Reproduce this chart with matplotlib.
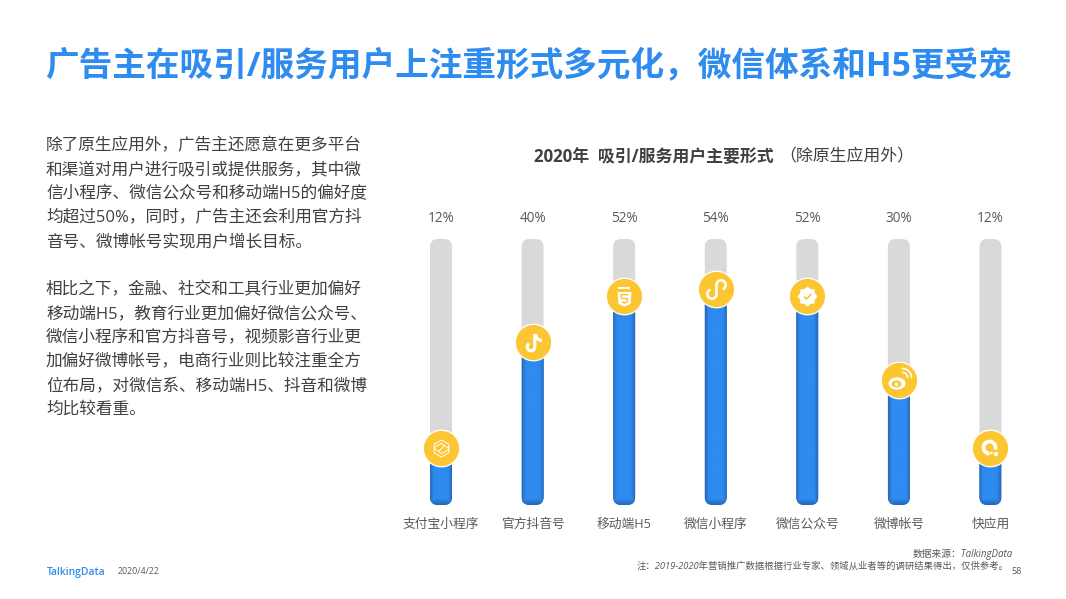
import matplotlib
matplotlib.use('Agg')
import matplotlib.pyplot as plt
import numpy as np
from matplotlib.patches import FancyBboxPatch
from matplotlib.path import Path

plt.rcParams['font.family'] = ['Open Sans', 'Noto Sans CJK SC', 'DejaVu Sans']

# Chart data
categories = ['支付宝小程序', '官方抖音号', '移动端H5', '微信小程序', '微信公众号', '微博帐号', '快应用']
values = [12, 40, 52, 54, 52, 30, 12]

title = '广告主在吸引/服务用户上注重形式多元化，微信体系和H5更受宠'
chart_title_bold = '2020年  吸引/服务用户主要形式'
chart_title_light = '（除原生应用外）'
para_lines = [
    '除了原生应用外，广告主还愿意在更多平台',
    '和渠道对用户进行吸引或提供服务，其中微',
    '信小程序、微信公众号和移动端H5的偏好度',
    '均超过50%，同时，广告主还会利用官方抖',
    '音号、微博帐号实现用户增长目标。',
    '',
    '相比之下，金融、社交和工具行业更加偏好',
    '移动端H5，教育行业更加偏好微信公众号、',
    '微信小程序和官方抖音号，视频影音行业更',
    '加偏好微博帐号，电商行业则比较注重全方',
    '位布局，对微信系、移动端H5、抖音和微博',
    '均比较看重。',
]
source_text = '数据来源：TalkingData'
note_text = '注：2019-2020年营销推广数据根据行业专家、领域从业者等的调研结果得出，仅供参考。'

W, H = 1066, 599
BLUE = '#2E8BEF'
GOLD = '#FBC632'
GREY = '#D9D9D9'
TEXT = '#404040'
PX = 0.72  # points per pixel at dpi 100

fig = plt.figure(figsize=(W / 100, H / 100), dpi=100, facecolor='white')


def put(x, y, s, **kw):
    # place text using pixel coordinates from the top left
    return fig.text(x / W, 1 - y / H, s, **kw)


def arc(cx, cy, r, a0, a1, n=40):
    t = np.radians(np.linspace(a0, a1, n))
    return np.column_stack([cx + r * np.cos(t), cy + r * np.sin(t)])


def icon(ax, x, y, pts, filled=True, color='white', lw=1.0, zorder=5):
    # pts are in pixels around the circle centre, y up
    path = pts if isinstance(pts, Path) else Path(np.asarray(pts))
    ms = 2 * np.abs(path.vertices).max() * PX
    if filled:
        ax.plot([x], [y], marker=path, ms=ms, mfc=color, mec='none', mew=0, ls='none', zorder=zorder)
    else:
        ax.plot([x], [y], marker=path, ms=ms, mfc='none', mec=color, mew=lw, ls='none', zorder=zorder)


def polylines(parts):
    verts, codes = [], []
    for p in parts:
        p = np.asarray(p)
        verts.append(p)
        codes += [Path.MOVETO] + [Path.LINETO] * (len(p) - 1)
    return Path(np.vstack(verts), codes)


def draw_alipay(ax, x, y):
    hexa = arc(0, 0, 8.5, 90, 450, 7)
    inner = [hexa, [(-7.3, 1), (0, 5), (7.3, 0)], [(-7.3, 0), (0, -5), (7.3, -1)], [(-3, -3), (3, 3)]]
    icon(ax, x, y, polylines(inner), filled=False, lw=0.7)


def draw_tiktok(ax, x, y):
    note = arc(-2.5, -4.5, 3.8, 120, 360, 30)
    stem = np.array([(1.3, -4.5), (1.3, 8.5)])
    flag = arc(8.5, 8.5, 6.5, 180, 270, 12)
    icon(ax, x, y, polylines([note, stem, flag]), filled=False, lw=3.2 * PX)


def draw_html5(ax, x, y):
    shield = [(-7, 4.5), (7, 4.5), (6, -7.5), (0, -10), (-6, -7.5), (-7, 4.5)]
    icon(ax, x, y, Path(np.array(shield)))
    five = [(3.6, 1.8), (-3.4, 1.8), (-3, -2), (3, -2), (2.6, -5.5), (0, -6.5), (-2.6, -5.5)]
    icon(ax, x, y, polylines([five]), filled=False, color=GOLD, lw=1.5 * PX, zorder=6)
    band = [(-6, 8.5), (6, 8.5)]
    icon(ax, x, y, polylines([band]), filled=False, lw=2 * PX)


def draw_miniprogram(ax, x, y):
    right = arc(4.6, 4.6, 4.6, 180, -70, 40)
    left = arc(-4.6, -4.6, 4.6, 0, -250, 40)
    stroke = np.vstack([right[::-1], left])
    icon(ax, x, y, polylines([stroke]), filled=False, lw=2.6 * PX)


def draw_badge(ax, x, y):
    ang = np.radians(np.arange(0, 360, 22.5))
    rad = np.where(np.arange(16) % 2 == 0, 10, 8)
    star = np.column_stack([rad * np.cos(ang), rad * np.sin(ang)])
    star = np.vstack([star, star[:1]])
    icon(ax, x, y, Path(star))
    check = [(-3.5, 0), (-1, -2.5), (4, 2.5)]
    icon(ax, x, y, polylines([check]), filled=False, color=GOLD, lw=1.6 * PX, zorder=6)


def draw_weibo(ax, x, y):
    body = arc(-2.5, -3, 8.5, 0, 360, 40)
    body[:, 1] = -3 + (body[:, 1] + 3) * 0.72
    icon(ax, x, y, Path(body))
    inner = arc(-3, -3.5, 5, 0, 360, 30)
    inner[:, 1] = -3.5 + (inner[:, 1] + 3.5) * 0.7
    icon(ax, x, y, Path(inner), color=GOLD, zorder=6)
    icon(ax, x, y, polylines([arc(-3, -4, 1.8, 0, 360, 16)]), zorder=7)
    icon(ax, x, y, polylines([arc(3, 3, 5, -5, 95, 12), arc(3, 3, 9, -5, 95, 14)]), filled=False, lw=1.6 * PX)


def draw_quickapp(ax, x, y):
    ring = arc(-1, 1, 6, 340, 630, 40)
    icon(ax, x, y, polylines([ring]), filled=False, lw=3.8 * PX)
    icon(ax, x, y, polylines([arc(5.5, -5.5, 2.2, 0, 360, 16)]), zorder=6)
    icon(ax, x, y, polylines([arc(1, -4.5, 1.4, 0, 360, 16)]), zorder=6)


drawers = [draw_alipay, draw_tiktok, draw_html5, draw_miniprogram, draw_badge, draw_weibo, draw_quickapp]

# axes placed so that a unit of x is 91.5 px and a unit of y is 3.8 px
left, right, top, bottom = 395.25, 1036.25, 239, 505
ax = fig.add_axes([left / W, 1 - bottom / H, (right - left) / W, (bottom - top) / H])
y_min, y_max = -2.9, 67.1
x_px = (right - left) / 7
y_px = (bottom - top) / (y_max - y_min)
bar_w = 22 / x_px
radius = 8 / x_px
aspect = x_px / y_px
boxstyle = f'round,pad=0,rounding_size={radius}'

c_mid = np.array(matplotlib.colors.to_rgb(BLUE))
c_dark = np.array(matplotlib.colors.to_rgb('#2868B4'))

for i, v in enumerate(values):
    track = FancyBboxPatch((i - bar_w / 2, y_min), bar_w, y_max - y_min, boxstyle=boxstyle,
                           mutation_aspect=aspect, fc=GREY, ec='none', zorder=1)
    ax.add_patch(track)

    bar = FancyBboxPatch((i - bar_w / 2, y_min), bar_w, v - y_min, boxstyle=boxstyle,
                         mutation_aspect=aspect, fc=BLUE, ec='none', zorder=2)
    ax.add_patch(bar)

    # darker edges on the bar
    nx, ny = 44, int((v - y_min) * y_px)
    xx = np.abs(np.linspace(-1, 1, nx))
    edge = np.clip((xx - 0.6) / 0.4, 0, 1)[None, :].repeat(ny, axis=0) ** 1.5
    base = np.clip(1 - np.arange(ny) / 6, 0, 1)[:, None].repeat(nx, axis=1)
    shade = np.maximum(edge, base)[..., None]
    img = c_mid * (1 - shade) + c_dark * shade
    im = ax.imshow(img, extent=(i - bar_w / 2, i + bar_w / 2, y_min, v), origin='lower',
                   aspect='auto', interpolation='bilinear', zorder=2.5)
    im.set_clip_path(bar)

    ax.plot([i], [v], marker='o', ms=36.5 * PX, mfc=GOLD, mec='white', mew=1.3 * PX, ls='none', zorder=4)
    drawers[i](ax, i, v)

    ax.annotate(f'{v}%', (i, y_max), xytext=(0, 21 * PX), textcoords='offset points',
                ha='center', va='center', fontsize=9.8, color='#595959', annotation_clip=False)

ax.set_xlim(-0.5, 6.5)
ax.set_ylim(y_min, y_max)
ax.set_xticks(range(len(categories)))
ax.set_xticklabels(categories, fontsize=9.2, color='#595959')
ax.tick_params(axis='x', length=0, pad=9.5)
ax.set_yticks([])
for s in ax.spines.values():
    s.set_visible(False)

# Title and left paragraph
put(45, 66, title, fontsize=24.23, fontweight='bold', color=BLUE, va='center', ha='left')

for k, line in enumerate(para_lines):
    put(46, 146 + k * 24, line, fontsize=12, color=TEXT, va='center', ha='left')

# Chart heading
put(534, 157, chart_title_bold, fontsize=12.2, fontweight='bold', color=TEXT, va='center', ha='left')
put(779, 157, chart_title_light, fontsize=12.2, color=TEXT, va='center', ha='left')

# Footer
put(1013, 554, source_text, fontsize=7, style='italic', color='#595959', va='center', ha='right')
put(1009, 566, note_text, fontsize=6.72, style='italic', color='#595959', va='center', ha='right')
put(47, 572, 'TalkingData', fontsize=7.4, fontweight='semibold', color=BLUE, va='center', ha='left')
put(118, 572, '2020/4/22', fontsize=6.4, color='#595959', va='center', ha='left')
put(1017, 572, '58', fontsize=6.5, color='#595959', va='center', ha='center')

fig.savefig('out.png', dpi=100)
